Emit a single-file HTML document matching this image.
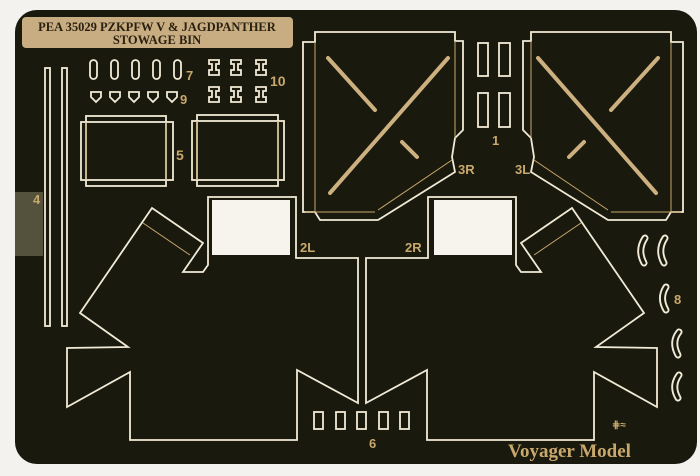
<!DOCTYPE html>
<html><head><meta charset="utf-8"><style>
html,body{margin:0;padding:0;background:#fff;}
svg{display:block;}
.l{font-family:"Liberation Sans",sans-serif;font-weight:bold;fill:#c9a86c;}
</style></head><body>
<svg width="700" height="476" viewBox="0 0 700 476" xmlns="http://www.w3.org/2000/svg">
<rect x="0" y="0" width="700" height="476" fill="#f4f2ee"/>
<rect x="15" y="10" width="682" height="454" rx="22" fill="#19190d"/>
<!-- tape -->
<rect x="15" y="192" width="28" height="64" fill="#6e6a52" opacity="0.7"/>
<text x="33" y="204" class="l" font-size="13">4</text>
<!-- title plate -->
<rect x="22" y="17" width="271" height="31" rx="4" fill="#c8ad82"/>
<text x="157" y="31" text-anchor="middle" font-family="Liberation Serif,serif" font-weight="bold" font-size="12.5" fill="#2a2010">PEA 35029 PZKPFW V &amp; JAGDPANTHER</text>
<text x="157" y="44" text-anchor="middle" font-family="Liberation Serif,serif" font-weight="bold" font-size="12.5" fill="#2a2010">STOWAGE BIN</text>
<g fill="none" stroke="#f1ead6" stroke-width="1.8">
<rect x="45" y="68" width="5" height="258"/>
<rect x="62" y="68" width="5" height="258"/>
<rect x="90" y="60" width="7" height="19" rx="3.5"/><rect x="111" y="60" width="7" height="19" rx="3.5"/><rect x="132" y="60" width="7" height="19" rx="3.5"/><rect x="153" y="60" width="7" height="19" rx="3.5"/><rect x="174" y="60" width="7" height="19" rx="3.5"/>
<path d="M91 92h10v5l-5 5l-5-5z M110 92h10v5l-5 5l-5-5z M129 92h10v5l-5 5l-5-5z M148 92h10v5l-5 5l-5-5z M167 92h10v5l-5 5l-5-5z"/>
<path d="M209 60h10v4h-3v6h3v5h-10v-5h3v-6h-3z M231 60h10v4h-3v6h3v5h-10v-5h3v-6h-3z M256 60h10v4h-3v6h3v5h-10v-5h3v-6h-3z M209 87h10v4h-3v6h3v5h-10v-5h3v-6h-3z M231 87h10v4h-3v6h3v5h-10v-5h3v-6h-3z M256 87h10v4h-3v6h3v5h-10v-5h3v-6h-3z"/>
<rect x="86" y="116" width="80" height="70"/><rect x="81" y="122" width="92" height="58"/>
<rect x="197" y="115" width="81" height="71"/><rect x="192" y="121" width="92" height="59"/>
<rect x="478" y="43" width="10" height="33"/><rect x="499" y="43" width="11" height="33"/>
<rect x="478" y="93" width="10" height="34"/><rect x="499" y="93" width="11" height="34"/>
<path d="M315 32H455V41H463V130L455 138L452 157L455 172L378 220L320 220L315 212H303V42H315Z"/>
<path d="M671 32H531V41H523V130L531 138L534 157L531 172L608 220L666 220L671 212H683V42H671Z"/>
<path d="M152 208L203 243L183 272L203 272L208 265V197H296V258H358V403L297 370V440H130V372L67 407V348L128 347L80 313Z"/>
<path d="M572 208L521 243L541 272L521 272L516 265V197H428V258H366V403L427 370V440H594V372L657 407V348L596 347L644 313Z"/>
<rect x="314" y="412" width="9" height="17"/><rect x="336" y="412" width="9" height="17"/><rect x="357" y="412" width="9" height="17"/><rect x="379" y="412" width="9" height="17"/><rect x="400" y="412" width="9" height="17"/>
<g stroke-width="7" stroke-linecap="round">
<path d="M645 238Q637 250 644 263"/><path d="M665 238Q657 250 664 263"/><path d="M666 287Q659 298 666 310"/><path d="M679 332Q671 342 678 355"/><path d="M679 375Q671 386 678 398"/>
</g>
</g>
<g fill="none" stroke="#19190d" stroke-width="3.2" stroke-linecap="round">
<path d="M645 238Q637 250 644 263"/><path d="M665 238Q657 250 664 263"/><path d="M666 287Q659 298 666 310"/><path d="M679 332Q671 342 678 355"/><path d="M679 375Q671 386 678 398"/>
</g>
<g fill="none" stroke="#c9a86c" stroke-width="1">
<path d="M315 42V212 M455 41V138 M305 212H375 M452 160L378 210"/>
<path d="M671 42V212 M531 41V138 M681 212H611 M534 160L608 210"/>
<path d="M143 223L190 255 M581 223L534 255"/>
<path d="M86 122v58 M166 122v58 M197 121v59 M278 121v59"/>
</g>
<rect x="212" y="200" width="78" height="55" fill="#f7f4ee"/>
<rect x="434" y="200" width="78" height="55" fill="#f7f4ee"/>
<g stroke="#cdb080" stroke-width="4" stroke-linecap="round">
<path d="M328 58L375 110 M330 193L448 58 M402 142L417 157"/>
<path d="M658 58L611 110 M656 193L538 58 M584 142L569 157"/>
</g>
<text x="186" y="80" class="l" font-size="13">7</text>
<text x="180" y="104" class="l" font-size="13">9</text>
<text x="270" y="86" class="l" font-size="14">10</text>
<text x="176" y="160" class="l" font-size="14">5</text>
<text x="492" y="145" class="l" font-size="13">1</text>
<text x="458" y="174" class="l" font-size="13">3R</text>
<text x="515" y="174" class="l" font-size="13">3L</text>
<text x="300" y="252" class="l" font-size="13">2L</text>
<text x="405" y="252" class="l" font-size="13">2R</text>
<text x="369" y="448" class="l" font-size="13">6</text>
<text x="674" y="304" class="l" font-size="13">8</text>
<text x="612" y="428" class="l" font-size="10">⋕≈</text>
<text x="508" y="457" font-family="Liberation Serif,serif" font-weight="bold" font-size="19" fill="#c9a86c">Voyager Model</text>
</svg>
</body></html>
